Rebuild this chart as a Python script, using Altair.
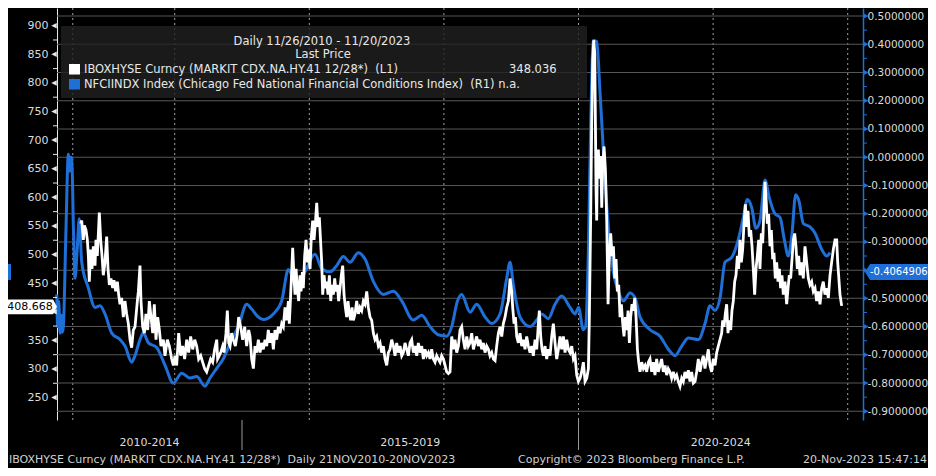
import altair as alt
import pandas as pd

FONT = "DejaVu Sans"

# ---------------- data ----------------
white_year = [
    2012.603, 2012.618, 2012.642, 2012.657, 2012.682, 2012.702, 2012.717, 2012.731, 2012.751, 2012.771,
    2012.791, 2012.816, 2012.830, 2012.850, 2012.880, 2012.900, 2012.920, 2012.939, 2012.964, 2012.989,
    2013.009, 2013.029, 2013.053, 2013.078, 2013.098, 2013.123, 2013.148, 2013.167, 2013.187, 2013.212,
    2013.237, 2013.261, 2013.286, 2013.311, 2013.336, 2013.360, 2013.385, 2013.410, 2013.445, 2013.460,
    2013.484, 2013.499, 2013.524, 2013.549, 2013.573, 2013.598, 2013.623, 2013.648, 2013.673, 2013.697,
    2013.722, 2013.747, 2013.772, 2013.796, 2013.831, 2013.856, 2013.890, 2013.920, 2013.955, 2013.980,
    2014.004, 2014.029, 2014.059, 2014.089, 2014.118, 2014.148, 2014.178, 2014.207, 2014.237, 2014.267,
    2014.297, 2014.326, 2014.356, 2014.386, 2014.415, 2014.445, 2014.475, 2014.505, 2014.534, 2014.564,
    2014.594, 2014.624, 2014.638, 2014.663, 2014.683, 2014.713, 2014.733, 2014.762, 2014.782, 2014.802,
    2014.822, 2014.846, 2014.871, 2014.901, 2014.931, 2014.950, 2014.980, 2015.010, 2015.040, 2015.069,
    2015.099,
    2015.119, 2015.144, 2015.169, 2015.193, 2015.218, 2015.243, 2015.268, 2015.292, 2015.317, 2015.342,
    2015.367, 2015.391, 2015.416, 2015.441, 2015.466, 2015.490, 2015.515, 2015.540, 2015.565, 2015.590,
    2015.614, 2015.639, 2015.664, 2015.689, 2015.703, 2015.723, 2015.738, 2015.753, 2015.773, 2015.788,
    2015.803, 2015.822, 2015.842, 2015.862, 2015.877, 2015.897, 2015.911, 2015.931, 2015.951, 2015.971,
    2015.991, 2016.011, 2016.030, 2016.050, 2016.070, 2016.090, 2016.110, 2016.129, 2016.149, 2016.169,
    2016.184, 2016.199, 2016.219, 2016.238, 2016.258, 2016.278, 2016.298, 2016.318, 2016.337, 2016.357,
    2016.377, 2016.397, 2016.417, 2016.436, 2016.456, 2016.476, 2016.496, 2016.516, 2016.536, 2016.555,
    2016.575, 2016.595, 2016.615, 2016.635, 2016.654, 2016.679, 2016.704, 2016.729, 2016.753, 2016.778,
    2016.803, 2016.828, 2016.853, 2016.877, 2016.902, 2016.927, 2016.952, 2016.976, 2017.001, 2017.026,
    2017.051, 2017.075, 2017.100, 2017.125, 2017.150, 2017.175, 2017.199, 2017.224, 2017.249, 2017.274,
    2017.298, 2017.323, 2017.348, 2017.373, 2017.397, 2017.422, 2017.447, 2017.472, 2017.496, 2017.521,
    2017.546, 2017.571, 2017.596, 2017.620, 2017.645, 2017.670, 2017.695, 2017.719, 2017.744, 2017.769,
    2017.794, 2017.818, 2017.843, 2017.868, 2017.893, 2017.917, 2017.942, 2017.967, 2017.992, 2018.017,
    2018.041, 2018.066,
    2018.091, 2018.116, 2018.141, 2018.165, 2018.190, 2018.215, 2018.240, 2018.264, 2018.289, 2018.314,
    2018.339, 2018.363, 2018.388, 2018.413, 2018.438, 2018.462, 2018.487, 2018.512, 2018.537, 2018.562,
    2018.586, 2018.611, 2018.636, 2018.661, 2018.685, 2018.710, 2018.735, 2018.760, 2018.784, 2018.809,
    2018.834, 2018.859, 2018.883, 2018.908, 2018.933, 2018.958, 2018.983, 2019.007, 2019.022, 2019.042,
    2019.062, 2019.082, 2019.106, 2019.131, 2019.156, 2019.181, 2019.205, 2019.230, 2019.255, 2019.280,
    2019.304, 2019.329, 2019.354, 2019.379, 2019.404, 2019.418, 2019.438, 2019.458, 2019.478, 2019.503,
    2019.527, 2019.552, 2019.577, 2019.602, 2019.626, 2019.651, 2019.676, 2019.701, 2019.725, 2019.750,
    2019.775, 2019.800, 2019.825, 2019.849, 2019.874, 2019.899, 2019.924, 2019.948, 2019.973, 2019.998,
    2020.023, 2020.047, 2020.072, 2020.097, 2020.122, 2020.147, 2020.161, 2020.181, 2020.196, 2020.211,
    2020.226, 2020.241, 2020.251, 2020.260, 2020.270, 2020.280, 2020.295, 2020.310, 2020.330, 2020.345,
    2020.359, 2020.379, 2020.399, 2020.419, 2020.439, 2020.459, 2020.478, 2020.498, 2020.518, 2020.538,
    2020.558, 2020.577, 2020.597, 2020.617, 2020.637, 2020.657, 2020.676, 2020.696, 2020.716, 2020.736,
    2020.756, 2020.775, 2020.795, 2020.815, 2020.835, 2020.855, 2020.875, 2020.894, 2020.914, 2020.939,
    2020.964, 2020.989, 2021.013, 2021.038,
    2021.062, 2021.087, 2021.112, 2021.136, 2021.161, 2021.186, 2021.211, 2021.235, 2021.260, 2021.285,
    2021.310, 2021.334, 2021.359, 2021.384, 2021.409, 2021.433, 2021.458, 2021.483, 2021.508, 2021.533,
    2021.557, 2021.582, 2021.607, 2021.632, 2021.656, 2021.681, 2021.706, 2021.731, 2021.755, 2021.780,
    2021.805, 2021.830, 2021.854, 2021.879, 2021.904, 2021.929, 2021.953, 2021.978, 2022.003, 2022.028,
    2022.053, 2022.077, 2022.102, 2022.127, 2022.142, 2022.162, 2022.181, 2022.201, 2022.221, 2022.241,
    2022.261, 2022.280, 2022.300, 2022.320, 2022.340, 2022.360, 2022.379, 2022.399, 2022.419, 2022.439,
    2022.459, 2022.479, 2022.498, 2022.518, 2022.538, 2022.558, 2022.578, 2022.597, 2022.617, 2022.637,
    2022.657, 2022.677, 2022.696, 2022.716, 2022.736, 2022.756, 2022.771, 2022.786, 2022.805, 2022.825,
    2022.845, 2022.865, 2022.885, 2022.904, 2022.924, 2022.944, 2022.964, 2022.984, 2023.003, 2023.023,
    2023.043, 2023.068, 2023.093, 2023.113, 2023.132, 2023.152, 2023.172, 2023.192, 2023.212, 2023.231,
    2023.251, 2023.271, 2023.291, 2023.316, 2023.340, 2023.365, 2023.390, 2023.415, 2023.439, 2023.464,
    2023.489, 2023.514, 2023.538, 2023.563, 2023.588, 2023.613, 2023.637, 2023.662, 2023.687, 2023.712,
    2023.737, 2023.761, 2023.786, 2023.811, 2023.836, 2023.851, 2023.865, 2023.885, 2023.910,
]
white_value = [
    553.8, 559.5, 525.7, 551.0, 542.6, 525.7, 497.5, 452.5, 508.8, 475.0,
    514.4, 480.7, 525.7, 497.5, 573.5, 525.7, 497.5, 463.8, 486.3, 531.3,
    475.0, 446.9, 458.2, 441.3, 455.3, 435.6, 452.5, 430.0, 413.1, 424.4,
    390.6, 418.7, 396.2, 379.3, 351.2, 337.1, 368.1, 373.7, 418.7, 435.6,
    480.7, 418.7, 373.7, 362.5, 396.2, 368.1, 418.7, 390.6, 362.5, 413.1,
    351.2, 390.6, 368.1, 340.0, 351.2, 323.1, 351.2, 340.0, 317.4, 306.2,
    323.1, 306.2, 362.5, 323.1, 340.0, 317.4, 351.2, 328.7, 356.8, 334.3,
    351.2, 340.0, 317.4, 323.1, 311.8, 300.6, 294.9, 306.2, 317.4, 311.8,
    334.3, 351.2, 317.4, 323.1, 328.7, 340.0, 328.7, 362.5, 401.9, 345.6,
    340.0, 362.5, 351.2, 340.0, 362.5, 390.6, 373.7, 351.2, 373.7, 340.0,
    368.1,
    356.8, 317.4, 300.6, 340.0, 328.7, 351.2, 328.7, 345.6, 334.3, 351.2,
    340.0, 368.1, 345.6, 362.5, 334.3, 368.1, 351.2, 373.7, 362.5, 379.3,
    373.7, 407.5, 385.0, 418.7, 379.3, 430.0, 469.4, 511.6, 458.2, 430.0,
    475.0, 441.3, 418.7, 463.8, 435.6, 469.4, 441.3, 497.5, 525.7, 486.3,
    508.8, 475.0, 531.3, 559.5, 525.7, 553.8, 590.4, 548.2, 565.1, 520.0,
    486.3, 430.0, 463.8, 441.3, 452.5, 430.0, 463.8, 418.7, 446.9, 430.0,
    458.2, 435.6, 446.9, 418.7, 441.3, 463.8, 480.7, 430.0, 407.5, 390.6,
    418.7, 396.2, 385.0, 407.5, 385.0, 396.2, 418.7, 396.2, 407.5, 401.9,
    418.7, 413.1, 435.6, 407.5, 390.6, 385.0, 362.5, 351.2, 356.8, 340.0,
    345.6, 328.7, 340.0, 317.4, 306.2, 328.7, 334.3, 351.2, 340.0, 323.1,
    345.6, 328.7, 340.0, 323.1, 328.7, 345.6, 334.3, 323.1, 345.6, 351.2,
    328.7, 340.0, 323.1, 345.6, 328.7, 340.0, 317.4, 334.3, 323.1, 328.7,
    317.4, 334.3, 317.4, 311.8, 323.1, 317.4, 311.8, 323.1, 317.4, 306.2,
    294.9, 292.1,
    294.9, 356.8, 334.3, 351.2, 328.7, 340.0, 368.1, 373.7, 351.2, 334.3,
    356.8, 340.0, 345.6, 362.5, 334.3, 345.6, 356.8, 340.0, 351.2, 334.3,
    345.6, 328.7, 340.0, 334.3, 323.1, 328.7, 317.4, 314.6, 340.0, 362.5,
    373.7, 356.8, 379.3, 390.6, 407.5, 418.7, 458.1, 435.6, 407.5, 379.3,
    390.6, 356.8, 345.6, 362.5, 340.0, 351.2, 334.3, 356.8, 340.0, 328.7,
    340.0, 323.1, 351.2, 334.3, 379.3, 401.9, 356.8, 334.3, 323.1, 340.0,
    317.4, 334.3, 323.1, 356.8, 379.3, 345.6, 317.4, 334.3, 356.8, 334.3,
    356.8, 328.7, 351.2, 334.3, 328.7, 340.0, 317.4, 323.1, 289.3, 278.1,
    283.7, 294.9, 311.8, 278.1, 283.7, 300.6, 390.6, 570.7, 728.3, 840.8,
    874.6, 852.1, 728.3, 615.7, 559.4, 660.8, 683.3, 632.6, 672.0, 581.9,
    655.1, 688.9, 649.5, 559.4, 413.1, 503.2, 536.9, 497.5, 514.4, 458.1,
    491.9, 435.6, 446.9, 390.6, 413.1, 379.3, 356.8, 390.6, 368.1, 401.9,
    345.6, 390.6, 413.1, 401.9, 424.4, 390.6, 334.3, 311.8, 294.9, 311.8,
    300.6, 306.2, 294.9, 311.8,
    317.4, 294.9, 311.8, 289.3, 317.4, 294.9, 306.2, 317.4, 294.9, 306.2,
    289.3, 300.6, 294.9, 283.7, 294.9, 283.7, 289.3, 278.0, 269.6, 283.7,
    278.0, 294.9, 283.7, 297.8, 278.0, 294.9, 275.2, 278.0, 294.9, 317.4,
    294.9, 311.8, 323.1, 300.6, 317.4, 334.3, 306.2, 294.9, 317.4, 306.2,
    328.7, 340.0, 351.2, 362.5, 385.0, 373.7, 396.2, 413.1, 362.5, 385.0,
    368.1, 401.9, 418.7, 452.5, 463.8, 497.5, 475.0, 525.7, 486.3, 508.8,
    553.8, 587.6, 548.2, 576.3, 531.3, 542.6, 514.4, 475.0, 430.0, 475.0,
    497.5, 525.7, 475.0, 536.9, 520.0, 582.0, 627.0, 598.8, 553.8, 570.7,
    514.4, 542.6, 491.9, 503.2, 458.2, 486.3, 452.5, 475.0, 441.3, 463.8,
    430.0, 452.5, 413.1, 441.3, 463.8, 458.2, 491.9, 525.7, 536.9, 514.4,
    475.0, 497.5, 463.8, 486.3, 458.2, 514.4, 486.3, 458.2, 446.9, 452.5,
    435.6, 441.3, 418.7, 435.6, 413.1, 441.3, 452.5, 430.0, 441.3, 424.4,
    463.8, 486.3, 508.8, 525.7, 525.7, 486.3, 463.8, 430.0, 410.3,
]

blue_year = [
    2012.247, 2012.262, 2012.277, 2012.296, 2012.315, 2012.330, 2012.345, 2012.385, 2012.419, 2012.440,
    2012.455, 2012.470, 2012.495, 2012.519, 2012.550, 2012.582, 2012.618, 2012.716, 2012.816, 2012.890,
    2012.964, 2013.064, 2013.187, 2013.262, 2013.361, 2013.410, 2013.484, 2013.533, 2013.608, 2013.732,
    2013.856, 2013.979, 2014.104, 2014.227, 2014.327, 2014.450, 2014.525, 2014.624, 2014.722, 2014.847,
    2014.945, 2015.070, 2015.144, 2015.242, 2015.316, 2015.465, 2015.590, 2015.688, 2015.813, 2015.936,
    2016.085, 2016.184, 2016.308, 2016.407, 2016.505, 2016.605, 2016.728, 2016.828, 2016.951, 2017.100,
    2017.248, 2017.373, 2017.545, 2017.670, 2017.793, 2017.917, 2018.042, 2018.116, 2018.200, 2018.264,
    2018.388, 2018.487, 2018.611, 2018.710, 2018.834, 2018.933, 2018.982, 2019.031, 2019.131, 2019.279,
    2019.379, 2019.453, 2019.551, 2019.651, 2019.750, 2019.874, 2019.948, 2020.000, 2020.071, 2020.105,
    2020.146, 2020.181, 2020.220, 2020.270, 2020.319, 2020.368, 2020.419, 2020.468, 2020.517, 2020.591,
    2020.666, 2020.765, 2020.840, 2020.914, 2021.062, 2021.211, 2021.334, 2021.434, 2021.533, 2021.632,
    2021.780, 2021.880, 2021.954, 2022.028, 2022.103, 2022.177, 2022.276, 2022.374, 2022.449, 2022.508,
    2022.574, 2022.637, 2022.697, 2022.771, 2022.835, 2022.920, 2022.994, 2023.058, 2023.117, 2023.168,
    2023.227, 2023.276, 2023.340, 2023.440, 2023.514, 2023.614, 2023.688, 2023.737,
]
blue_value = [
    -0.486, -0.600, -0.510, -0.623, -0.560, -0.620, -0.600, -0.250, 0.010, -0.050,
    0.000, -0.002, -0.250, -0.429, -0.330, -0.218, -0.371, -0.463, -0.532, -0.526,
    -0.555, -0.623, -0.646, -0.669, -0.726, -0.703, -0.646, -0.623, -0.657, -0.674,
    -0.737, -0.800, -0.765, -0.782, -0.777, -0.811, -0.782, -0.748, -0.714, -0.646,
    -0.600, -0.521, -0.538, -0.566, -0.575, -0.555, -0.509, -0.398, -0.463, -0.406,
    -0.344, -0.395, -0.406, -0.384, -0.352, -0.372, -0.338, -0.361, -0.440, -0.486,
    -0.475, -0.509, -0.577, -0.560, -0.600, -0.629, -0.634, -0.600, -0.510, -0.486,
    -0.549, -0.521, -0.566, -0.589, -0.555, -0.429, -0.372, -0.452, -0.566, -0.600,
    -0.577, -0.555, -0.572, -0.521, -0.492, -0.532, -0.555, -0.532, -0.611, -0.600,
    -0.338, 0.118, 0.414, 0.409, 0.232, 0.027, -0.167, -0.315, -0.406, -0.475,
    -0.509, -0.481, -0.498, -0.566, -0.611, -0.634, -0.680, -0.703, -0.669, -0.640,
    -0.646, -0.589, -0.526, -0.543, -0.498, -0.372, -0.355, -0.292, -0.213, -0.150,
    -0.179, -0.252, -0.224, -0.081, -0.144, -0.201, -0.213, -0.292, -0.350, -0.281,
    -0.133, -0.156, -0.235, -0.247, -0.269, -0.327, -0.350, -0.338,
]

left_ticks = [250, 300, 350, 400, 450, 500, 550, 600, 650, 700, 750, 800, 850, 900]
left_minor = [275, 325, 375, 425, 475, 525, 575, 625, 675, 725, 775, 825, 875]
right_ticks = [0.5, 0.4, 0.3, 0.2, 0.1, 0.0, -0.1, -0.2, -0.3, -0.4, -0.5, -0.6, -0.7, -0.8, -0.9]
right_minor = [0.45, 0.35, 0.25, 0.15, 0.05, -0.05, -0.15, -0.25, -0.35, -0.45, -0.55, -0.65, -0.75, -0.85]
year_ticks = [2012.285, 2012.485, 2013, 2014, 2015, 2016, 2017, 2018, 2019, 2020, 2021, 2022, 2023, 2024]
grid_years = [2012.485, 2014, 2016, 2018, 2020, 2022, 2024]
group_bounds = [2012.251, 2015, 2020, 2024.227]
group_labels = ["2010-2014", "2015-2019", "2020-2024"]
x_domain = [2012.251, 2024.227]
left_domain = [210.8, 930.9]
right_domain = [-0.9308, 0.5284]
last_white = [408.668]
last_blue = [-0.4064906]
legend_title = "Daily 11/26/2010 - 11/20/2023"
legend_sub = "Last Price"
legend_row1 = "IBOXHYSE Curncy (MARKIT CDX.NA.HY.41 12/28*) \u00a0(L1)"
legend_row1_val = "348.036"
legend_row2 = "NFCIINDX Index (Chicago Fed National Financial Conditions Index) \u00a0(R1) n.a."
footer_left = "IBOXHYSE Curncy (MARKIT CDX.NA.HY.41 12/28*) \u00a0Daily 21NOV2010-20NOV2023"
footer_mid = "Copyright\u00a9 2023 Bloomberg Finance L.P."
footer_right = "20-Nov-2023 15:47:14"

# ---------------- layout / style ----------------
W, H = 806, 412
WHITE = "#ffffff"
BLUE = "#1f6fd8"
TXT = "#dcdcdc"
GRID = "#a0a0a0"
AXIS_GRAY = "#9a9a9a"

white_df = pd.DataFrame({"year": white_year, "value": white_value})
blue_df = pd.DataFrame({"year": blue_year, "value": blue_value})
hgrid_df = pd.DataFrame({"level": right_ticks})

x_scale = alt.Scale(domain=x_domain, nice=False, zero=False)


def lscale():
    return alt.Scale(domain=left_domain, nice=False, zero=False)


def rscale():
    return alt.Scale(domain=right_domain, nice=False, zero=False)


# labels hidden behind the last-value boxes are left out
left_label_vals = [v for v in left_ticks if abs(v - last_white[0]) > 20]
right_label_vals = [v for v in right_ticks if abs(v - last_blue[0]) > 0.03]

x_axis = alt.Axis(values=year_ticks, labels=False, ticks=True, tickSize=5, tickColor=AXIS_GRAY,
                  tickWidth=1, domainColor=AXIS_GRAY, domainWidth=1.5, grid=False, title=None)
left_axis = alt.Axis(orient="left", values=left_label_vals, format="d", labelColor=TXT, labelFont=FONT,
                     labelFontSize=11, labelPadding=9, ticks=False, tickSize=0, domainColor="#e6e6e6",
                     domainWidth=1, grid=False, title=None)
right_axis = alt.Axis(orient="right", values=right_label_vals,
                      labelExpr="(datum.value < 0 ? '-' : '') + format(abs(datum.value), '.7f')",
                      labelColor=TXT, labelFont=FONT, labelFontSize=10.5, labelPadding=4,
                      ticks=False, tickSize=0, domainColor=BLUE, domainWidth=1.5,
                      grid=False, title=None)


def one(txt):
    return pd.DataFrame({"t": [txt]})


def text_layer(txt, x, y, align="left", color=TXT, size=11.5):
    return alt.Chart(one(txt)).mark_text(
        align=align, baseline="middle", color=color, fontSize=size, font=FONT
    ).encode(x=alt.value(x), y=alt.value(y), text="t:N")


# vertical gridlines (also carries the x axis)
vgrid = alt.Chart(pd.DataFrame({"year": grid_years})).mark_rule(
    color=GRID, strokeDash=[2, 3], strokeWidth=1
).encode(x=alt.X("year:Q", scale=x_scale, axis=x_axis))

# horizontal gridlines at the right-axis ticks (thin full-width ticks)
hgrid = alt.Chart(hgrid_df).mark_tick(
    color="#575757", thickness=1, size=W, orient="horizontal", opacity=1
).encode(x=alt.value(W / 2), y=alt.Y("level:Q", scale=rscale(), axis=None))

# group separators below the axis
seps = alt.Chart(pd.DataFrame({"year": group_bounds[1:3]})).mark_rule(
    color=AXIS_GRAY, strokeWidth=1
).encode(x=alt.X("year:Q", scale=x_scale, axis=None), y=alt.value(H), y2=alt.value(H + 30))

mids = [(group_bounds[i] + group_bounds[i + 1]) / 2 for i in range(3)]
group_text = alt.Chart(pd.DataFrame({"year": mids, "t": group_labels})).mark_text(
    align="center", baseline="middle", color=TXT, fontSize=11, font=FONT
).encode(x=alt.X("year:Q", scale=x_scale, axis=None), y=alt.value(H + 23), text="t:N")

# legend box
legend_box = alt.Chart(one("")).mark_rect(color="#202020", opacity=0.8).encode(
    x=alt.value(4), x2=alt.value(530), y=alt.value(18), y2=alt.value(90)
)
sq1 = alt.Chart(one("")).mark_rect(color=WHITE).encode(
    x=alt.value(12), x2=alt.value(23), y=alt.value(56), y2=alt.value(66.5))
sq2 = alt.Chart(one("")).mark_rect(color=BLUE).encode(
    x=alt.value(12), x2=alt.value(23), y=alt.value(71), y2=alt.value(81.5))

legend_texts = [
    text_layer(legend_title, 265, 33.5, align="center", color="#e8e8e8"),
    text_layer(legend_sub, 266, 47.3, align="center", color="#e8e8e8"),
    text_layer(legend_row1, 27, 62, color="#e8e8e8"),
    text_layer(legend_row1_val, 452, 62, color="#e8e8e8"),
    text_layer(legend_row2, 27, 76.5, color="#e8e8e8"),
]

footer = [
    text_layer(footer_left, -48, H + 40, color="#d0d0d0", size=11),
    text_layer(footer_mid, 461, H + 40, color="#d0d0d0", size=11),
    text_layer(footer_right, 870, H + 40, align="right", color="#d0d0d0", size=11),
]

# ---- white series (left scale) ----
white_line = alt.Chart(white_df).mark_line(color=WHITE, strokeWidth=2.8).encode(
    x=alt.X("year:Q", scale=x_scale, axis=None),
    y=alt.Y("value:Q", scale=lscale(), axis=left_axis),
)
left_tri = alt.Chart(pd.DataFrame({"value": left_ticks})).mark_point(
    shape="M1,-1 L-1,0 L1,1 Z", size=30, filled=True, color="#e6e6e6", opacity=1, strokeWidth=0
).encode(x=alt.value(-3), y=alt.Y("value:Q", scale=lscale(), axis=None))
left_min = alt.Chart(pd.DataFrame({"value": left_minor})).mark_rule(color="#e6e6e6", strokeWidth=1).encode(
    x=alt.value(-4), x2=alt.value(0), y=alt.Y("value:Q", scale=lscale(), axis=None))
left_box = alt.Chart(pd.DataFrame({"value": last_white})).mark_point(
    shape="M-1,-0.3 L0.84,-0.3 L1,0 L0.84,0.3 L-1,0.3 Z", size=2401, filled=True,
    color="#ffffff", opacity=1, strokeWidth=0
).encode(x=alt.value(-24.5), y=alt.Y("value:Q", scale=lscale(), axis=None))
left_box_txt = alt.Chart(pd.DataFrame({"value": last_white, "t": [f"{v:.3f}" for v in last_white]})).mark_text(
    align="center", baseline="middle", color="#000000", fontSize=11, font=FONT
).encode(x=alt.value(-27), y=alt.Y("value:Q", scale=lscale(), axis=None), text="t:N")

# ---- blue series (right scale) ----
blue_line = alt.Chart(blue_df).mark_line(color=BLUE, strokeWidth=3, interpolate="monotone").encode(
    x=alt.X("year:Q", scale=x_scale, axis=None),
    y=alt.Y("value:Q", scale=rscale(), axis=right_axis),
)
right_tri = alt.Chart(pd.DataFrame({"value": right_ticks})).mark_point(
    shape="M-1,-1 L1,0 L-1,1 Z", size=28, filled=True, color=BLUE, opacity=1, strokeWidth=0
).encode(x=alt.value(W + 3), y=alt.Y("value:Q", scale=rscale(), axis=None))
right_min = alt.Chart(pd.DataFrame({"value": right_minor})).mark_rule(color=BLUE, strokeWidth=1).encode(
    x=alt.value(W), x2=alt.value(W + 4), y=alt.Y("value:Q", scale=rscale(), axis=None))
right_box = alt.Chart(pd.DataFrame({"value": last_blue})).mark_point(
    shape="M-1,0 L-0.86,-0.22 L1,-0.22 L1,0.22 L-0.86,0.22 Z", size=5184, filled=True,
    color=BLUE, opacity=1, strokeWidth=0
).encode(x=alt.value(W + 38), y=alt.Y("value:Q", scale=rscale(), axis=None))
right_box_txt = alt.Chart(pd.DataFrame({"value": last_blue, "t": [f"{v:.7f}" for v in last_blue]})).mark_text(
    align="left", baseline="middle", color="#ffffff", fontSize=10, font=FONT
).encode(x=alt.value(W + 7), y=alt.Y("value:Q", scale=rscale(), axis=None), text="t:N")
# cut-off blue marker at the far left edge
left_blue_mark = alt.Chart(pd.DataFrame({"value": last_blue})).mark_point(
    shape="M-0.19,-1 L0.19,-1 L0.19,1 L-0.19,1 Z", size=256, filled=True,
    color=BLUE, opacity=1, strokeWidth=0
).encode(x=alt.value(-47.5), y=alt.Y("value:Q", scale=rscale(), axis=None))

chart = alt.layer(
    vgrid, hgrid, seps, group_text, legend_box,
    blue_line, right_tri, right_min, right_box, right_box_txt, left_blue_mark,
    white_line, left_tri, left_min, left_box, left_box_txt,
    sq1, sq2, *legend_texts, *footer
).resolve_scale(y="independent").properties(
    width=W, height=H,
    padding={"left": 49, "top": 0, "right": 65, "bottom": 48},
    autosize=alt.AutoSizeParams(type="none"),
).configure(background="#000000", font=FONT).configure_view(strokeWidth=0)

chart.save("out.html", embed_options={"renderer": "svg", "actions": False})
